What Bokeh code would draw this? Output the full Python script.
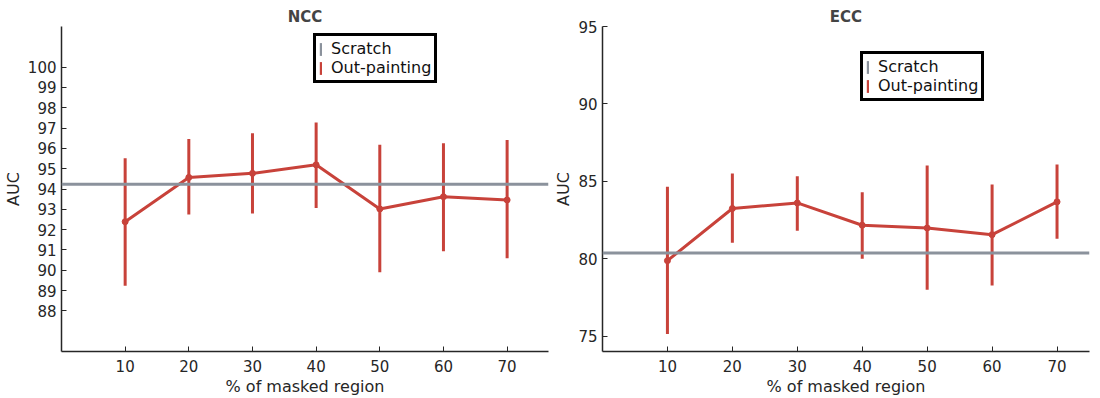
from bokeh.plotting import figure
from bokeh.layouts import row
from bokeh.models import ColumnDataSource, Range1d, FixedTicker, Legend, LegendItem, Span
from bokeh.embed import file_html
from bokeh.resources import INLINE

# ---------------- data ----------------
masked = [10, 20, 30, 40, 50, 60, 70]

ncc_mean = [92.39, 94.57, 94.77, 95.19, 93.02, 93.62, 93.46]
ncc_high = [95.52, 96.46, 96.75, 97.28, 96.18, 96.25, 96.41]
ncc_low = [89.24, 92.74, 92.79, 93.06, 89.90, 90.93, 90.59]
ncc_scratch = 94.24

ecc_mean = [79.87, 83.24, 83.60, 82.16, 81.98, 81.55, 83.67]
ecc_high = [84.64, 85.50, 85.33, 84.29, 86.02, 84.79, 86.08]
ecc_low = [75.13, 81.02, 81.81, 80.00, 77.99, 78.27, 81.29]
ecc_scratch = 80.37

ncc_yticks = list(range(88, 101))
ecc_yticks = [75, 80, 85, 90, 95]
xticks = [10, 20, 30, 40, 50, 60, 70]

RED = "#c8423a"
GRAY = "#8b929c"
FONT = "DejaVu Sans"


def make_panel(title, mean, low, high, scratch, yr, yticks, xr, legend_xy, right_border):
    p = figure(frame_width=487, frame_height=325, output_backend="svg",
               toolbar_location=None, x_range=Range1d(*xr), y_range=Range1d(*yr),
               min_border_left=53, min_border_right=right_border, min_border_top=26,
               min_border_bottom=30)
    p.title.text = title
    p.title.align = "center"
    p.title.text_font = FONT
    p.title.text_font_size = "15px"
    p.title.text_font_style = "bold"
    p.title.standoff = 2
    p.title.offset = 0
    p.outline_line_color = None
    p.grid.visible = False
    p.background_fill_color = "white"
    p.border_fill_color = "white"

    for ax in (p.xaxis, p.yaxis):
        ax.axis_line_color = "#262626"
        ax.axis_line_width = 1.5
        ax.major_tick_in = 5
        ax.major_tick_out = 0
        ax.major_tick_line_color = "#262626"
        ax.minor_tick_line_color = None
        ax.major_label_text_font = FONT
        ax.major_label_text_font_size = "15px"
        ax.major_label_text_color = "#262626"
        ax.axis_label_text_font = FONT
        ax.axis_label_text_font_size = "16px"
        ax.axis_label_text_font_style = "normal"
        ax.axis_label_text_color = "#262626"
    p.xaxis.ticker = FixedTicker(ticks=xticks)
    p.yaxis.ticker = FixedTicker(ticks=yticks)
    p.xaxis.axis_label = "% of masked region"
    p.yaxis.axis_label = "AUC"
    p.xaxis.major_label_standoff = 8
    p.xaxis.axis_label_standoff = 2
    p.yaxis.major_label_standoff = 5
    p.yaxis.axis_label_standoff = 2

    src = ColumnDataSource(dict(x=masked, m=mean, lo=low, hi=high,
                                s=[scratch] * len(masked)))

    # scratch baseline
    p.add_layout(Span(location=scratch, dimension="width", line_color=GRAY,
                      line_width=3))
    # error bars
    p.segment(x0="x", y0="lo", x1="x", y1="hi", source=src, line_color=RED,
              line_width=3)
    # mean line
    p.line(x="x", y="m", source=src, line_color=RED, line_width=3)
    p.scatter(x="x", y="m", source=src, size=6, fill_color=RED, line_color=RED)

    # legend proxies: zero-width bars (only visible as the legend's vertical tick)
    r_s = p.vbar(x="x", top="s", bottom="s", width=0, source=src,
                 fill_color=GRAY, line_color=None)
    r_o = p.vbar(x="x", top="m", bottom="m", width=0, source=src,
                 fill_color=RED, line_color=None)
    legend = Legend(items=[LegendItem(label="Scratch", renderers=[r_s]),
                           LegendItem(label="Out-painting", renderers=[r_o])],
                    location=legend_xy)
    legend.label_text_font = FONT
    legend.label_text_font_size = "16px"
    legend.label_text_color = "#111111"
    legend.label_height = 18
    legend.glyph_height = 16
    legend.glyph_width = 3
    legend.label_standoff = 9
    legend.spacing = -3
    legend.padding = 3
    legend.margin = 0
    legend.border_line_color = "black"
    legend.border_line_alpha = 1
    legend.border_line_width = 3
    legend.background_fill_color = "white"
    legend.background_fill_alpha = 1
    p.add_layout(legend)
    return p


p1 = make_panel("NCC", ncc_mean, ncc_low, ncc_high, ncc_scratch, (86, 102),
                ncc_yticks, (0, 76.5), (252, 268), 1)
p2 = make_panel("ECC", ecc_mean, ecc_low, ecc_high, ecc_scratch, (74, 95),
                ecc_yticks, (0, 75), (258, 250), 2)

layout = row(p1, p2, spacing=0)
open("out.html", "w").write(file_html(layout, INLINE))
